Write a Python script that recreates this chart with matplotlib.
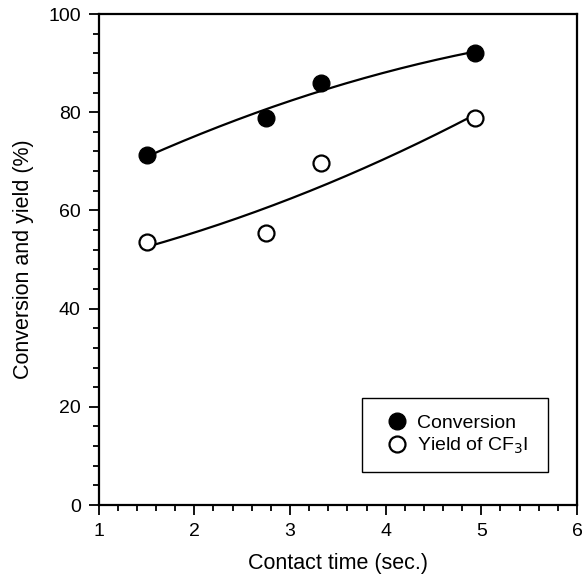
import numpy as np
import matplotlib
matplotlib.use("Agg")
import matplotlib.pyplot as plt
from matplotlib.patches import Rectangle
from matplotlib.ticker import MultipleLocator

plt.rcParams['font.family'] = ['Liberation Sans', 'DejaVu Sans']

contact_time = [1.5, 2.75, 3.32, 4.93]
conversion = [71.3, 78.8, 86.0, 92.1]
yield_cf3i = [53.6, 55.3, 69.7, 78.8]

fig = plt.figure(figsize=(5.82, 5.79), dpi=100)
ax = fig.add_axes([0.1696, 0.1278, 0.8218, 0.848])

# quadratic trend curves through each series
xs = np.linspace(min(contact_time), max(contact_time), 200)
for ys in (conversion, yield_cf3i):
    coef = np.polyfit(contact_time, ys, 2)
    ax.plot(xs, np.polyval(coef, xs), color='black', lw=1.6, zorder=2)

ax.plot(contact_time, conversion, 'o', ms=12, mfc='black', mec='black',
        label='Conversion', zorder=3)
ax.plot(contact_time, yield_cf3i, 'o', ms=11.5, mfc='white', mec='black',
        mew=1.6, label='Yield of CF$_3$I', zorder=3)

ax.set_xlim(1, 6)
ax.set_ylim(0, 100)
ax.xaxis.set_major_locator(MultipleLocator(1))
ax.xaxis.set_minor_locator(MultipleLocator(0.2))
ax.yaxis.set_major_locator(MultipleLocator(20))
ax.yaxis.set_minor_locator(MultipleLocator(4))
ax.tick_params(which='both', direction='out', top=False, right=False,
               width=1.3, labelsize=14)
ax.tick_params(which='major', length=7, pad=6)
ax.tick_params(which='minor', length=4)
for sp in ax.spines.values():
    sp.set_linewidth(1.6)

ax.set_xlabel('Contact time (sec.)', fontsize=15.5, labelpad=9)
ax.set_ylabel('Conversion and yield (%)', fontsize=15.5, labelpad=10)

ax.add_patch(Rectangle((0.5505, 0.0672), 0.3885, 0.151, transform=ax.transAxes,
                       fill=False, edgecolor='black', lw=1.0, zorder=4))
leg = ax.legend(loc='upper left', bbox_to_anchor=(0.57, 0.213), frameon=False,
                fontsize=14, handletextpad=0.45, labelspacing=0.2,
                handlelength=1.2, borderpad=0.2)

fig.savefig('out.png', dpi=100)
